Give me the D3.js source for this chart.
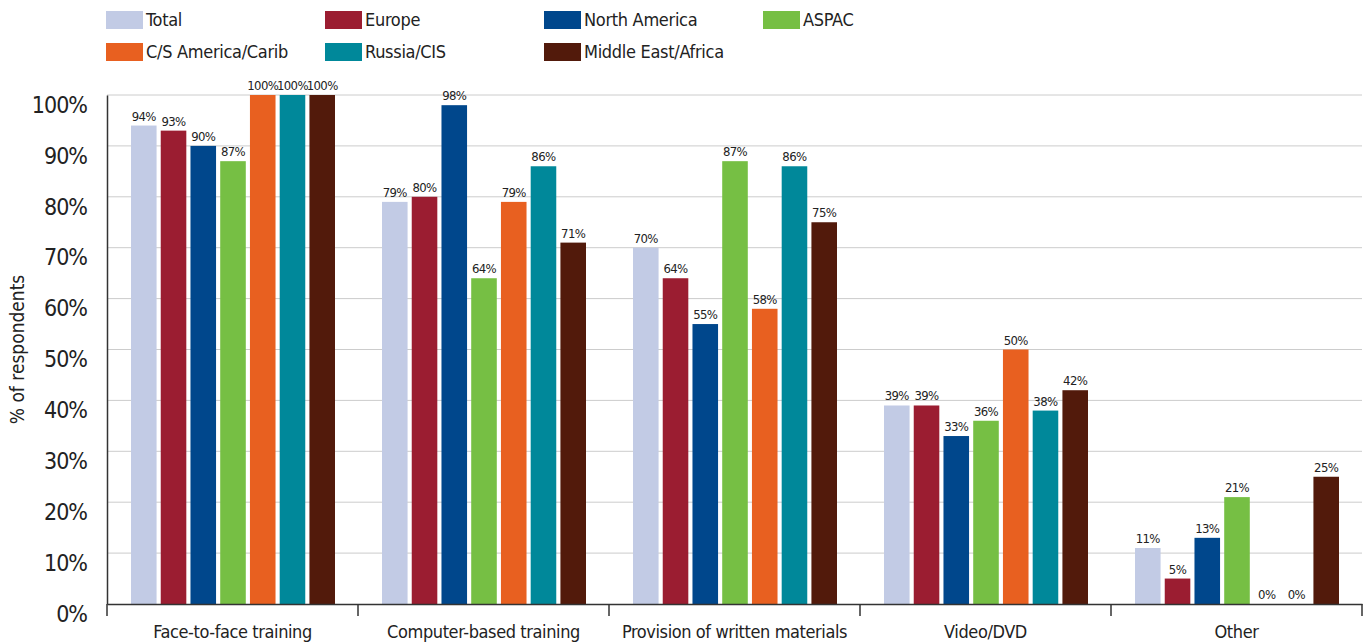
<!DOCTYPE html>
<meta charset="utf-8">
<script src="https://d3js.org/d3.v7.min.js"></script>
<style>
  body { margin: 0; background: #fff; }
  text { font-family: "Liberation Sans Narrow", "DejaVu Sans Condensed", sans-serif; font-stretch: condensed; fill: #222; }
</style>
<div id="chart"></div>
<script>

// data
var categories = ["Face-to-face training", "Computer-based training", "Provision of written materials", "Video/DVD", "Other"];
var regions = ["Total", "Europe", "North America", "ASPAC", "C/S America/Carib", "Russia/CIS", "Middle East/Africa"];
var colors = ["#c2cbe5", "#9b1d31", "#00478c", "#76bf44", "#e86020", "#00889a", "#521a0b"];
var values = [
  [94, 93, 90, 87, 100, 100, 100],
  [79, 80, 98, 64, 79, 86, 71],
  [70, 64, 55, 87, 58, 86, 75],
  [39, 39, 33, 36, 50, 38, 42],
  [11, 5, 13, 21, 0, 0, 25]
];
var yTicks = [0, 10, 20, 30, 40, 50, 60, 70, 80, 90, 100];

var width = 1372, height = 642;
var margin = {top: 95, right: 10, bottom: 38, left: 107};

var svg = d3.select("#chart")
  .append("svg")
    .attr("width", width)
    .attr("height", height);

var x0 = d3.scaleBand()
  .domain(categories)
  .range([margin.left, width - margin.right])
  .padding(0);

var x1 = d3.scaleBand()
  .domain(regions)
  .range([24, 228])
  .paddingInner(0.14)
  .paddingOuter(0);

var y = d3.scaleLinear()
  .domain([0, 100])
  .range([height - margin.bottom, margin.top]);

var color = d3.scaleOrdinal().domain(regions).range(colors);

// gridlines
svg.append("g")
  .selectAll("line")
  .data(yTicks.slice(1))
  .enter().append("line")
    .attr("x1", margin.left)
    .attr("x2", width - margin.right)
    .attr("y1", function(d) { return y(d); })
    .attr("y2", function(d) { return y(d); })
    .attr("stroke", "#cccccc")
    .attr("stroke-width", 1);

// y axis labels
var yAxis = svg.append("g")
  .attr("transform", "translate(" + margin.left + ",0)")
  .call(d3.axisLeft(y).tickValues(yTicks).tickSize(0).tickPadding(20)
    .tickFormat(function(d) { return d + "%"; }));
yAxis.select(".domain").attr("stroke", "#333").attr("stroke-width", 1.5);
yAxis.selectAll("text")
  .style("font-size", "23px")
  .style("letter-spacing", "-1px")
  .attr("fill", "#222")
  .attr("dy", "0.75em");

svg.append("text")
  .attr("transform", "rotate(-90)")
  .attr("x", -(y(50)))
  .attr("y", 24)
  .style("text-anchor", "middle")
  .style("font-size", "19px")
  .text("% of respondents");

// bars
var groups = svg.append("g")
  .selectAll("g")
  .data(values)
  .enter().append("g")
    .attr("transform", function(d, i) { return "translate(" + x0(categories[i]) + ",0)"; });

groups.selectAll("rect")
  .data(function(d) { return d.map(function(v, j) { return {key: regions[j], value: v}; }); })
  .enter().append("rect")
    .attr("x", function(d) { return x1(d.key); })
    .attr("y", function(d) { return y(d.value); })
    .attr("width", x1.bandwidth())
    .attr("height", function(d) { return y(0) - y(d.value); })
    .attr("fill", function(d) { return color(d.key); });

groups.selectAll("text")
  .data(function(d) { return d.map(function(v, j) { return {key: regions[j], value: v}; }); })
  .enter().append("text")
    .attr("x", function(d) { return x1(d.key) + x1.bandwidth() / 2; })
    .attr("y", function(d) { return y(d.value) - 5; })
    .style("text-anchor", "middle")
    .style("font-size", "13px")
    .style("letter-spacing", "-0.6px")
    .text(function(d) { return d.value + "%"; });

// x axis
var xAxis = svg.append("g")
  .attr("transform", "translate(0," + y(0) + ")")
  .call(d3.axisBottom(x0).tickSize(0).tickPadding(21));
xAxis.select(".domain").attr("stroke", "#333").attr("stroke-width", 1.5);
xAxis.selectAll("text")
  .style("font-size", "18px")
  .style("letter-spacing", "-0.4px")
  .attr("fill", "#222");

// separators between categories
var seps = categories.map(function(c) { return x0(c); }).concat([x0.range()[1]]);
svg.append("g")
  .selectAll("line")
  .data(seps)
  .enter().append("line")
    .attr("x1", function(d) { return d; })
    .attr("x2", function(d) { return d; })
    .attr("y1", y(0))
    .attr("y2", y(0) + 12)
    .attr("stroke", "#333")
    .attr("stroke-width", 1.5);

// legend
var legend = svg.append("g")
  .selectAll("g")
  .data(regions)
  .enter().append("g")
    .attr("transform", function(d, i) {
      return "translate(" + (106 + (i % 4) * 219) + "," + (11 + Math.floor(i / 4) * 32) + ")";
    });

legend.append("rect")
  .attr("width", 37)
  .attr("height", 18)
  .attr("fill", function(d) { return color(d); });

legend.append("text")
  .attr("x", 40)
  .attr("y", 9)
  .attr("dy", "0.35em")
  .style("font-size", "18px")
  .style("letter-spacing", "-0.3px")
  .text(function(d) { return d; });

</script>
